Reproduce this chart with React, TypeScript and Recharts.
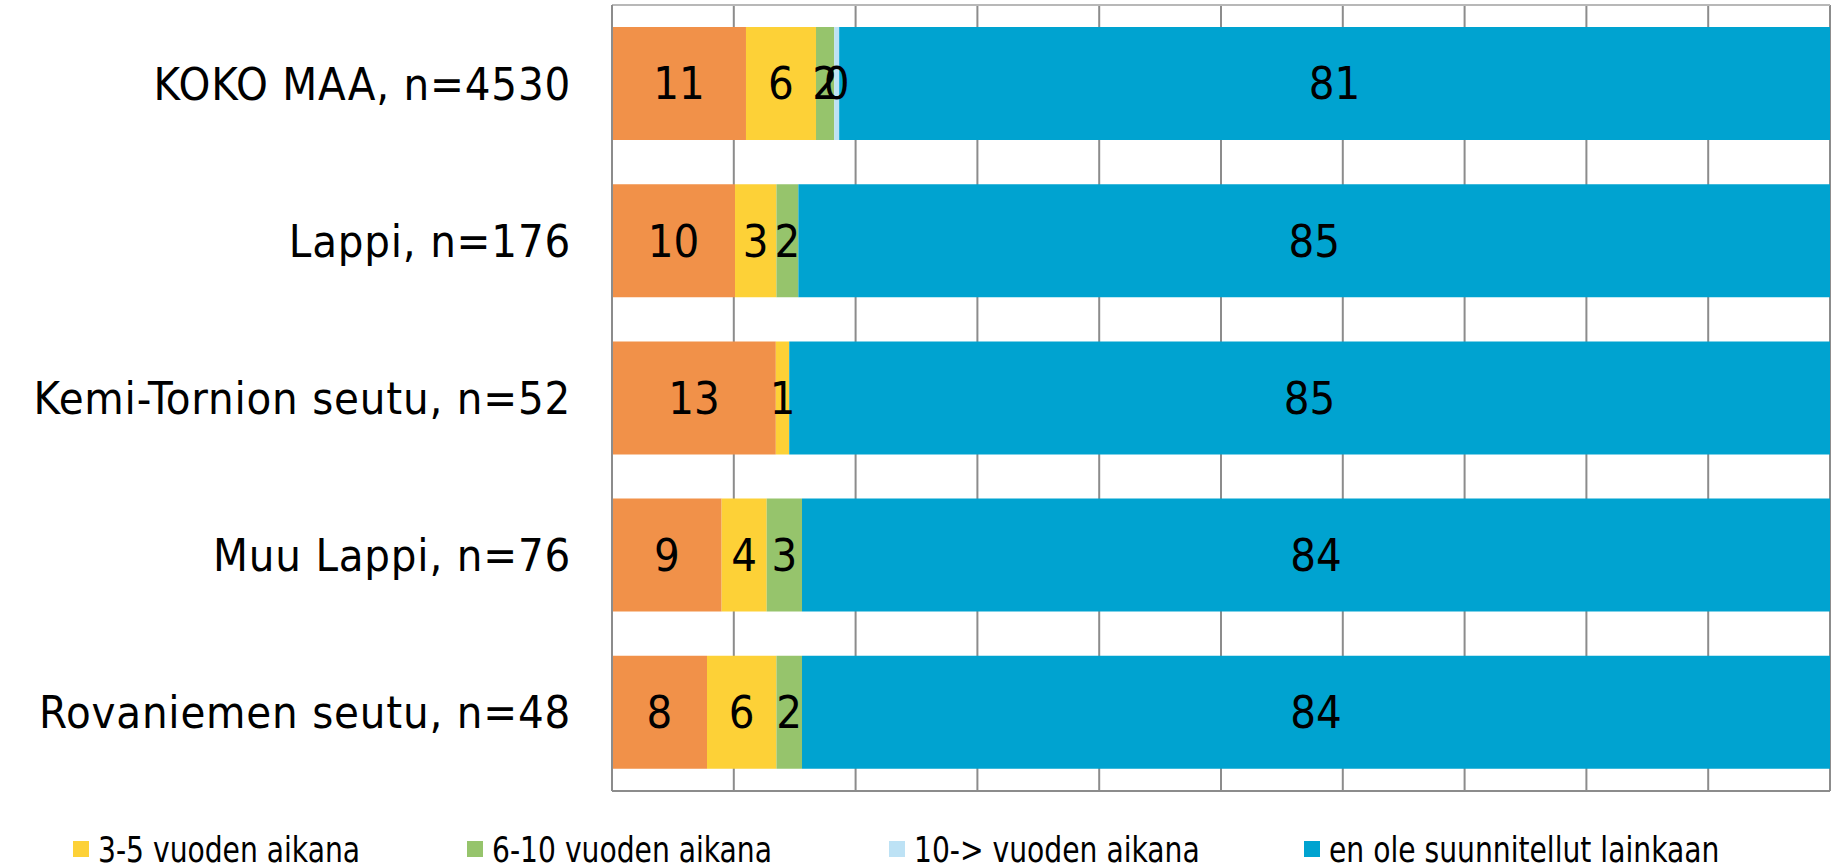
import React from "react";
import { BarChart, Bar, XAxis, YAxis, CartesianGrid, Legend, LabelList } from "recharts";

const categories = [
  "KOKO MAA, n=4530",
  "Lappi, n=176",
  "Kemi-Tornion seutu, n=52",
  "Muu Lappi, n=76",
  "Rovaniemen seutu, n=48",
];

// shares in %
const within2 = [11.0, 10.1, 13.45, 9.0, 7.8];
const within3to5 = [5.75, 3.4, 1.1, 3.7, 5.7];
const within6to10 = [1.5, 1.8, 0, 2.9, 2.1];
const after10 = [0.4, 0, 0, 0, 0];
const notPlanned = [81.35, 84.7, 85.45, 84.4, 84.4];

const xTicks = [0, 10, 20, 30, 40, 50, 60, 70, 80, 90, 100];

const series = [
  { key: "s1", values: within2, color: "#F19149", label: "" },
  { key: "s2", values: within3to5, color: "#FDD137", label: "3-5 vuoden aikana" },
  { key: "s3", values: within6to10, color: "#96C46C", label: "6-10 vuoden aikana" },
  { key: "s4", values: after10, color: "#BDE2F5", label: "10-> vuoden aikana" },
  { key: "s5", values: notPlanned, color: "#00A3D0", label: "en ole suunnitellut lainkaan" },
];

const legendLeft = [73, 467, 889, 1304];

const data = categories.map((name, i) => {
  const row: any = { name };
  series.forEach((s) => (row[s.key] = s.values[i]));
  return row;
});

const FONT = "'DejaVu Sans Condensed', 'Liberation Sans Narrow', 'DejaVu Sans', sans-serif";

const fmt = (v: any) => (v === 0 ? "" : Math.round(Number(v)));

const LegendBox = () => (
  <div style={{ position: "relative", width: 1834, height: 71, fontFamily: FONT }}>
    {series
      .filter((s) => s.label)
      .map((s, i) => (
        <div key={s.key} style={{ position: "absolute", left: legendLeft[i], top: 49, height: 16, whiteSpace: "nowrap" }}>
          <span style={{ position: "absolute", left: 0, top: 0, width: 16, height: 16, background: s.color }} />
          <span
            style={{
              position: "absolute",
              left: 25,
              top: -9,
              fontSize: 36,
              lineHeight: "36px",
              color: "#000",
              transform: "scaleX(0.87)",
              transformOrigin: "left center",
            }}
          >
            {s.label}
          </span>
        </div>
      ))}
  </div>
);

const NoTick = () => <g />;

export default function App() {
  return (
    <div style={{ position: "absolute", left: 0, top: 0, width: 1834, height: 863, background: "#fff", overflow: "hidden" }}>
      <BarChart
        width={1834}
        height={863}
        data={data}
        layout="vertical"
        margin={{ top: 4, right: 4, bottom: 0, left: 0 }}
        barCategoryGap={22}
      >
        <CartesianGrid horizontal={false} stroke="#8C8C8C" strokeWidth={2} />
        <XAxis
          type="number"
          domain={[0, 100]}
          ticks={xTicks}
          tick={<NoTick />}
          tickLine={false}
          height={1}
          axisLine={{ stroke: "#8C8C8C", strokeWidth: 2 }}
        />
        <XAxis
          xAxisId="top"
          orientation="top"
          type="number"
          domain={[0, 100]}
          ticks={xTicks}
          tick={<NoTick />}
          tickLine={false}
          height={1}
          axisLine={{ stroke: "#B8B8B8", strokeWidth: 2 }}
        />
        <YAxis
          type="category"
          dataKey="name"
          width={612}
          tickLine={false}
          tickSize={0}
          tickMargin={41}
          axisLine={{ stroke: "#8C8C8C", strokeWidth: 2 }}
          tick={{ fontSize: 45, fill: "#000", fontFamily: FONT, letterSpacing: 0.8 }}
        />
        <Legend verticalAlign="bottom" height={71} content={() => <LegendBox />} />
        {series.map((s) => (
          <Bar key={s.key} dataKey={s.key} stackId="a" fill={s.color} isAnimationActive={false}>
            <LabelList
              dataKey={s.key}
              position="center"
              formatter={fmt}
              style={{ fontSize: 45, fill: "#000", fontFamily: FONT }}
            />
          </Bar>
        ))}
      </BarChart>
    </div>
  );
}
